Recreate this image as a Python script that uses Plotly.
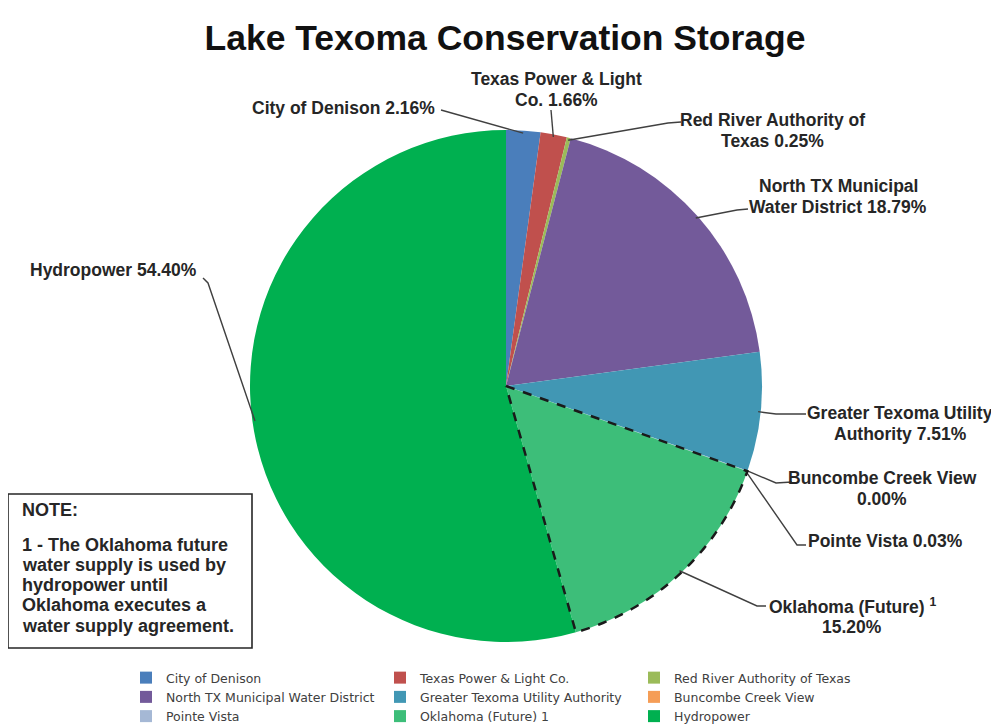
import math
import plotly.graph_objects as go

W, H = 999, 728
OFF = 8  # page margin around the figure in the browser

# ---------------- data ----------------
labels = ["City of Denison", "Texas Power & Light Co.", "Red River Authority of Texas",
          "North TX Municipal Water District", "Greater Texoma Utility Authority",
          "Buncombe Creek View", "Pointe Vista", "Oklahoma (Future) 1", "Hydropower"]
values = [2.16, 1.66, 0.25, 18.79, 7.51, 0.00, 0.03, 15.20, 54.40]
colors = ["#4a7ebb", "#c0504d", "#9bbb59", "#735a9a", "#4197b4",
          "#f59d56", "#a5b8d5", "#3dbe79", "#00b050"]
# label lines (percent appended to the last line)
label_lines = [["City of Denison"], ["Texas Power & Light", "Co."],
               ["Red River Authority of", "Texas"], ["North TX Municipal", "Water District"],
               ["Greater Texoma Utility", "Authority"], ["Buncombe Creek View", ""],
               ["Pointe Vista"], ["Oklahoma (Future) <sup>1</sup>", ""], ["Hydropower"]]
title_text = "Lake Texoma Conservation Storage"
note_lines = ["NOTE:", "", "1 - The Oklahoma future", "water supply is used by",
              "hydropower until", "Oklahoma executes a", "water supply agreement."]
dashed_slice = "Oklahoma (Future) 1"

# ---------------- layout (page pixels) ----------------
CX, CY, R = 506, 386, 256
FONT = "Liberation Sans"
label_pos = [(437, 108, "right"), (556, 79, "center"), (772, 120, "center"),
             (838, 186, "center"), (900, 413, "center"), (882, 478, "center"),
             (885, 541, "center"), (852, 606, "center"), (113, 270, "center")]
LINE_STEP = 21
leader_start = [[(441, 110)], [(551, 110)], [(681, 122), (668, 123)],
                [(748, 209), (737, 210)], [(806, 414), (776, 414)],
                [(792, 482), (776, 483)], [(806, 545), (797, 545)],
                [(766, 606), (757, 606)], [(203, 278), (208, 283)]]


def P(x, y):
    return (x - OFF) / W, 1 - (y - OFF) / H


def rim(frac, rr=R):
    a = 2 * math.pi * frac
    return CX + rr * math.sin(a), CY - rr * math.cos(a)


total = sum(values)
cum = [0.0]
for v in values:
    cum.append(cum[-1] + v / total)

dx0, dy0 = P(CX - R, CY + R)
dx1, dy1 = P(CX + R, CY - R)
fig = go.Figure(go.Pie(
    labels=labels, values=values, sort=False, direction="clockwise", rotation=0,
    marker=dict(colors=colors, line=dict(width=0)), textinfo="none",
    hoverinfo="label+percent",
    domain=dict(x=[dx0, dx1], y=[dy0, dy1]),
))

shapes = []
annotations = []

for i, lines in enumerate(label_lines):
    pct = f"{values[i]:.2f}%"
    lines = list(lines)
    lines[-1] = (lines[-1] + " " + pct).strip()
    x0, y0, anc = label_pos[i]
    for k, ln in enumerate(lines):
        xp, yp = P(x0, y0 + k * LINE_STEP)
        annotations.append(dict(x=xp, y=yp, xref="paper", yref="paper", text=f"<b>{ln}</b>",
                                showarrow=False, xanchor=anc, yanchor="middle",
                                font=dict(family=FONT, size=17.5, color="#262626")))
    frac = (cum[i] + cum[i + 1]) / 2 if values[i] > 0 else cum[i]
    ax, ay = rim(frac, R * 0.99)
    pts = leader_start[i] + [(ax, ay)]
    path = "M " + " L ".join("{:.5f},{:.5f}".format(*P(x, y)) for x, y in pts)
    shapes.append(dict(type="path", path=path, xref="paper", yref="paper",
                       line=dict(color="#404040", width=1.4)))

# dashed outline of the future slice
j = labels.index(dashed_slice)
n = 60
arc = [rim(cum[j] + (cum[j + 1] - cum[j]) * t / n) for t in range(n + 1)]
pts = [(CX, CY)] + arc + [(CX, CY)]
path = "M " + " L ".join("{:.5f},{:.5f}".format(*P(x, y)) for x, y in pts)
shapes.append(dict(type="path", path=path, xref="paper", yref="paper",
                   line=dict(color="#1a1a1a", width=2.5, dash="dash")))

# note box
bx0, by0 = P(8, 494)
bx1, by1 = P(252, 648)
shapes.append(dict(type="rect", x0=bx0, y0=by1, x1=bx1, y1=by0, xref="paper", yref="paper",
                   line=dict(color="#262626", width=1.6), fillcolor="white"))
note_y = [510, 527, 545, 565, 585, 605, 626]
for ln, yy in zip(note_lines, note_y):
    if not ln:
        continue
    xp, yp = P(20, yy)
    annotations.append(dict(x=xp, y=yp, xref="paper", yref="paper", text=f"<b>{ln}</b>",
                            showarrow=False, xanchor="left", yanchor="middle",
                            font=dict(family=FONT, size=18, color="#262626")))

tx, ty = P(505, 38)
lx, ly = P(126, 663)
fig.update_layout(
    width=W, height=H, margin=dict(l=0, r=0, t=0, b=0),
    paper_bgcolor="white", plot_bgcolor="white",
    title=dict(text=f"<b>{title_text}</b>", x=tx, xanchor="center",
               y=ty, yanchor="middle",
               font=dict(family=FONT, size=35.5, color="#111111")),
    showlegend=True,
    legend=dict(orientation="h", x=lx, xanchor="left", y=ly, yanchor="top",
                entrywidth=209, entrywidthmode="pixels", traceorder="normal",
                font=dict(family="DejaVu Sans", size=12.5, color="#404040"),
                bgcolor="rgba(0,0,0,0)"),
    shapes=shapes, annotations=annotations,
)

fig.write_html("out.html")
